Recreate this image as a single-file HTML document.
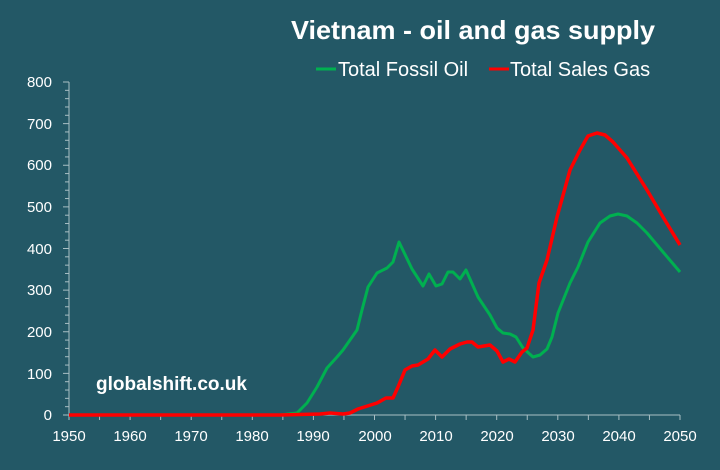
<!DOCTYPE html>
<html><head><meta charset="utf-8"><style>
html,body{margin:0;padding:0;background:#235866;}
svg{display:block}
text{font-family:"Liberation Sans",sans-serif;fill:#ffffff}
</style></head><body>
<svg width="720" height="470" viewBox="0 0 720 470" xmlns="http://www.w3.org/2000/svg">
<rect width="720" height="470" fill="#235866"/>
<text x="655" y="39" text-anchor="end" font-size="26" font-weight="bold" textLength="364" lengthAdjust="spacingAndGlyphs">Vietnam - oil and gas supply</text>
<line x1="316" y1="69" x2="336" y2="69" stroke="#00b050" stroke-width="3"/>
<text x="338" y="76" font-size="20" fill="#fff">Total Fossil Oil</text>
<line x1="489" y1="69" x2="509" y2="69" stroke="#ff0000" stroke-width="3"/>
<text x="510" y="76" font-size="20" fill="#fff">Total Sales Gas</text>
<g stroke="#a9bfc4" stroke-width="1">
<line x1="69" y1="82" x2="69" y2="415"/>
<line x1="69" y1="415" x2="680" y2="415"/>
</g>
<g id="yt" stroke="#a9bfc4" stroke-width="1"></g>
<g id="xt" stroke="#a9bfc4" stroke-width="1"></g>
<g font-size="15" text-anchor="end" fill="#fff">
<text x="52" y="420">0</text><text x="52" y="379">100</text><text x="52" y="337">200</text><text x="52" y="295">300</text><text x="52" y="254">400</text><text x="52" y="212">500</text><text x="52" y="170">600</text><text x="52" y="129">700</text><text x="52" y="87">800</text>
</g>
<g font-size="15" text-anchor="middle">
<text x="69" y="441">1950</text><text x="130" y="441">1960</text><text x="191" y="441">1970</text><text x="252" y="441">1980</text><text x="313" y="441">1990</text><text x="375" y="441">2000</text><text x="436" y="441">2010</text><text x="497" y="441">2020</text><text x="558" y="441">2030</text><text x="619" y="441">2040</text><text x="680" y="441">2050</text>
</g>
<text x="96" y="390" font-size="19" font-weight="bold">globalshift.co.uk</text>
<polyline fill="none" stroke="#00b050" stroke-width="3" stroke-linejoin="round" points="69,415 280,415 297,413 307,403 317,387 327,368 337,357 343,350 357,330 362,310 368,287 377,273 387,268 393,262 399,242 412,269 423,286 429,274 436,286 442,284 448,272 453,272 460,279 466,270 478,297 490,315 497,328 503,333 510,334 516,337 523,348 533,357 540,355 547,349 552,337 558,313 570,283 578,267 588,242 600,223 610,216 618,214 627,216 637,223 647,233 663,252 680,272"/>
<polyline fill="none" stroke="#ff0000" stroke-width="3.5" stroke-linejoin="round" points="69,415 280,415 320,414 330,413 343,414 350,413 358,409 377,403 386,398 393,398 398,387 405,370 412,366 418,365 428,359 435,350 442,357 450,349 460,344 467,342 472,342 478,347 490,345 497,351 503,362 509,359 515,362 522,352 527,348 533,330 539,283 547,260 557,217 570,170 580,150 588,136 597,133 605,135 613,142 627,158 647,190 663,217 680,245"/>
<script>
var ns="http://www.w3.org/2000/svg";
var yt=document.getElementById("yt");
for(var v=0;v<=800;v+=20){var y=415-v*0.41625;var l=document.createElementNS(ns,"line");l.setAttribute("x1",v%100==0?63:65);l.setAttribute("x2",69);l.setAttribute("y1",y);l.setAttribute("y2",y);yt.appendChild(l);}
var xt=document.getElementById("xt");
for(var yr=1950;yr<=2050;yr+=5){var x=69+(yr-1950)*6.11;var l=document.createElementNS(ns,"line");l.setAttribute("x1",x);l.setAttribute("x2",x);l.setAttribute("y1",415);l.setAttribute("y2",420);xt.appendChild(l);}
</script>
</svg>
</body></html>
